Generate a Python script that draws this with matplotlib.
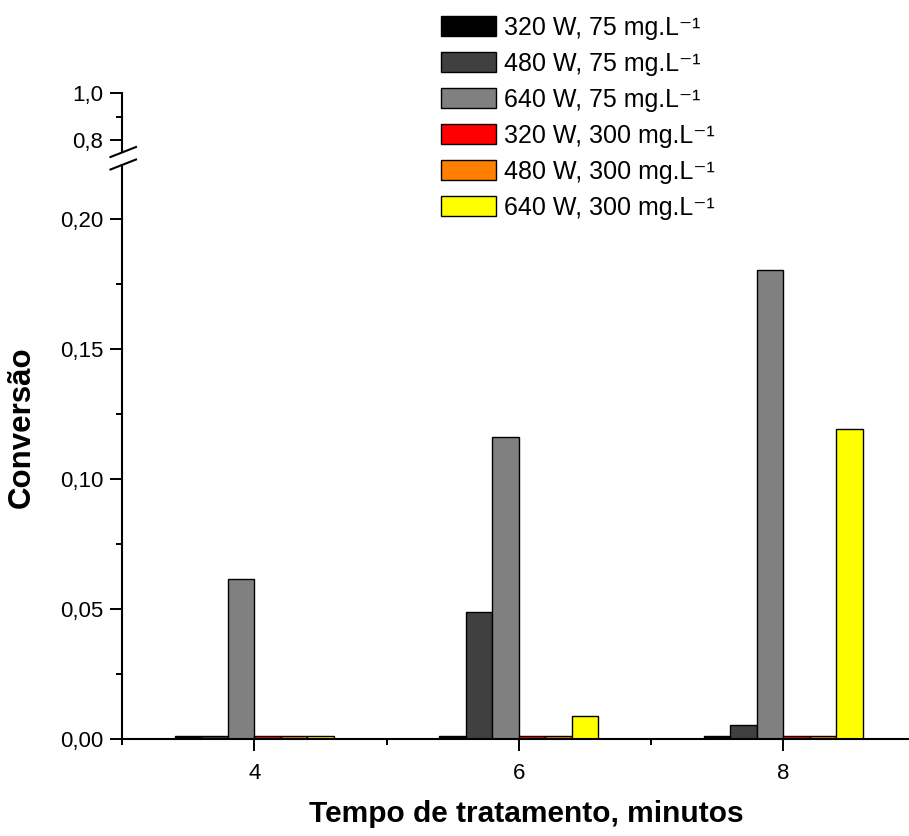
import matplotlib
matplotlib.use("Agg")
import matplotlib.pyplot as plt
import numpy as np
from matplotlib.ticker import FixedLocator, FuncFormatter, MultipleLocator

plt.rcParams["font.family"] = ["Liberation Sans", "DejaVu Sans"]

# treatment times (minutes)
tempos = [4, 6, 8]

series_labels = [
    "320 W, 75 mg.L⁻¹",
    "480 W, 75 mg.L⁻¹",
    "640 W, 75 mg.L⁻¹",
    "320 W, 300 mg.L⁻¹",
    "480 W, 300 mg.L⁻¹",
    "640 W, 300 mg.L⁻¹",
]
series_colors = ["#000000", "#404040", "#808080", "#ff0000", "#ff8000", "#ffff00"]

# conversion per series, one value per treatment time
conv_320_75 = [0.0013, 0.0013, 0.0013]
conv_480_75 = [0.0013, 0.0488, 0.0053]
conv_640_75 = [0.0617, 0.1162, 0.1805]
conv_320_300 = [0.0013, 0.0013, 0.0013]
conv_480_300 = [0.0013, 0.0013, 0.0013]
conv_640_300 = [0.0013, 0.0087, 0.1193]

series_values = [conv_320_75, conv_480_75, conv_640_75,
                 conv_320_300, conv_480_300, conv_640_300]

W, H = 909, 836
fig = plt.figure(figsize=(W / 100, H / 100), dpi=100)

def px_rect(left, top, right, bottom):
    return [left / W, 1 - bottom / H, (right - left) / W, (bottom - top) / H]

# lower (main) axis and the compressed upper segment of the broken y axis
ax = fig.add_axes(px_rect(122, 165, 909, 739))
ax_top = fig.add_axes(px_rect(122, 93, 909, 152))

bar_w = 0.2
x = np.array(tempos, dtype=float)
for i, (vals, lab, col) in enumerate(zip(series_values, series_labels, series_colors)):
    ax.bar(x + (i - 3) * bar_w, vals, width=bar_w, align="edge",
           color=col, edgecolor="black", linewidth=1.0, label=lab, zorder=2)

comma = FuncFormatter(lambda v, p: f"{v:.2f}".replace(".", ","))
comma1 = FuncFormatter(lambda v, p: f"{v:.1f}".replace(".", ","))

TICK_FS = 16

ax.set_xlim(3, 8.95)
ax.set_ylim(0, 0.2208)
ax.yaxis.set_major_locator(MultipleLocator(0.05))
ax.yaxis.set_minor_locator(MultipleLocator(0.025))
ax.yaxis.set_major_formatter(comma)
ax.xaxis.set_major_locator(FixedLocator(tempos))
ax.xaxis.set_minor_locator(FixedLocator([3, 5, 7]))
for s in ("top", "right"):
    ax.spines[s].set_visible(False)
for s in ("left", "bottom"):
    ax.spines[s].set_linewidth(1.5)
ax.tick_params(which="major", length=8.5, width=1.4, labelsize=TICK_FS)
ax.tick_params(axis="y", which="major", pad=5)
ax.tick_params(axis="x", which="major", pad=8.5)
ax.tick_params(which="minor", length=4.5, width=1.4)

ax_top.set_xlim(3, 8.95)
ax_top.set_ylim(0.75, 1.0)
ax_top.set_yticks([0.8, 1.0])
ax_top.yaxis.set_minor_locator(FixedLocator([0.9]))
ax_top.yaxis.set_major_formatter(comma1)
ax_top.set_xticks([])
ax_top.patch.set_visible(False)
for s in ("top", "right", "bottom"):
    ax_top.spines[s].set_visible(False)
ax_top.spines["left"].set_linewidth(1.5)
ax_top.tick_params(which="major", length=8.5, width=1.4, labelsize=TICK_FS, pad=5)
ax_top.tick_params(which="minor", length=4.5, width=1.4)

# break marks on the y axis
for yc in (152.5, 165.0):
    fig.add_artist(plt.Line2D([110.5 / W, 136 / W],
                              [1 - (yc + 4.5) / H, 1 - (yc - 5.5) / H],
                              color="black", linewidth=1.5))

fig.text(526 / W, 1 - 814 / H, "Tempo de tratamento, minutos", fontsize=21.5,
         fontweight="bold", ha="center", va="center")
fig.text(22 / W, 1 - 427 / H, "Conversão", rotation=90, fontsize=22.5,
         fontweight="bold", ha="center", va="center")

fig.legend(loc="upper left", bbox_to_anchor=(441 / W, 1 - 15.5 / H),
           frameon=False, fontsize=18, handlelength=2.2, handleheight=0.84,
           handletextpad=0.3, labelspacing=0.48, borderpad=0, borderaxespad=0)

fig.savefig("out.png", dpi=100)
